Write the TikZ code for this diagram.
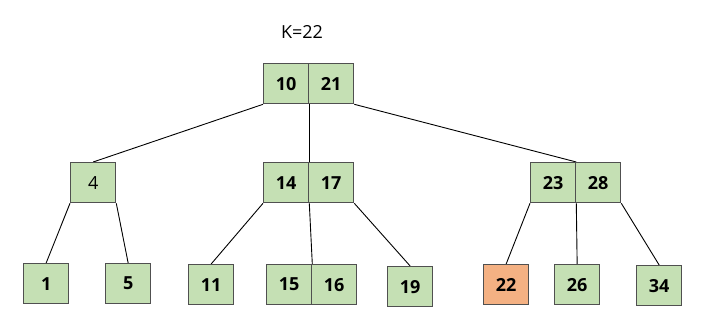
\documentclass[tikz,border=0pt]{standalone}
\usepackage{fontspec}
\setmainfont{Open Sans}
\usetikzlibrary{backgrounds}
\definecolor{kgreen}{HTML}{C5E0B4}
\definecolor{korange}{HTML}{F4B183}
\definecolor{kborder}{HTML}{505050}
\begin{document}
\begin{tikzpicture}[x=1pt,y=-1pt,
  cell/.style={draw=kborder, line width=1.3pt, fill=kgreen, minimum width=45pt, minimum height=40pt, inner sep=0pt, font=\fontsize{18}{21}\selectfont\bfseries, anchor=north west},
  plaincell/.style={cell, font=\fontsize{18}{21}\selectfont},
  hit/.style={cell, fill=korange},
  link/.style={draw=black, line width=0.9pt}]
\useasboundingbox (0,0) rectangle (715,325);
\node[font=\fontsize{18}{21}\selectfont] (k) at (302,32) {K=22};
% root
\node[cell] (r1) at (263,63) {10};
\node[cell] (r2) at (308,63) {21};
% level 2
\node[plaincell] (a) at (70,162) {4};
\node[cell] (b1) at (263,162) {14};
\node[cell] (b2) at (308,162) {17};
\node[cell] (c1) at (530,162) {23};
\node[cell] (c2) at (575,162) {28};
% leaves
\node[cell] (l1) at (23,263) {1};
\node[cell] (l5) at (105,263) {5};
\node[cell] (l11) at (188,264) {11};
\node[cell] (l15) at (266,264) {15};
\node[cell] (l16) at (311,264) {16};
\node[cell] (l19) at (387,266) {19};
\node[hit] (l22) at (483,264) {22};
\node[cell] (l26) at (554,264) {26};
\node[cell] (l34) at (636,265) {34};
\begin{scope}[on background layer]
\draw[link] (r1.south west) -- (a.north);
\draw[link] (r1.south east) -- (b1.north east);
\draw[link] (r2.south east) -- (c1.north east);
\draw[link] (a.south west) -- (l1.north);
\draw[link] (a.south east) -- (l5.north);
\draw[link] (b1.south west) -- (l11.north);
\draw[link] (b1.south east) -- (l15.north east);
\draw[link] (b2.south east) -- (l19.north);
\draw[link] (c1.south west) -- (l22.north);
\draw[link] (c1.south east) -- (l26.north);
\draw[link] (c2.south east) -- (l34.north);
\end{scope}
\end{tikzpicture}
\end{document}
